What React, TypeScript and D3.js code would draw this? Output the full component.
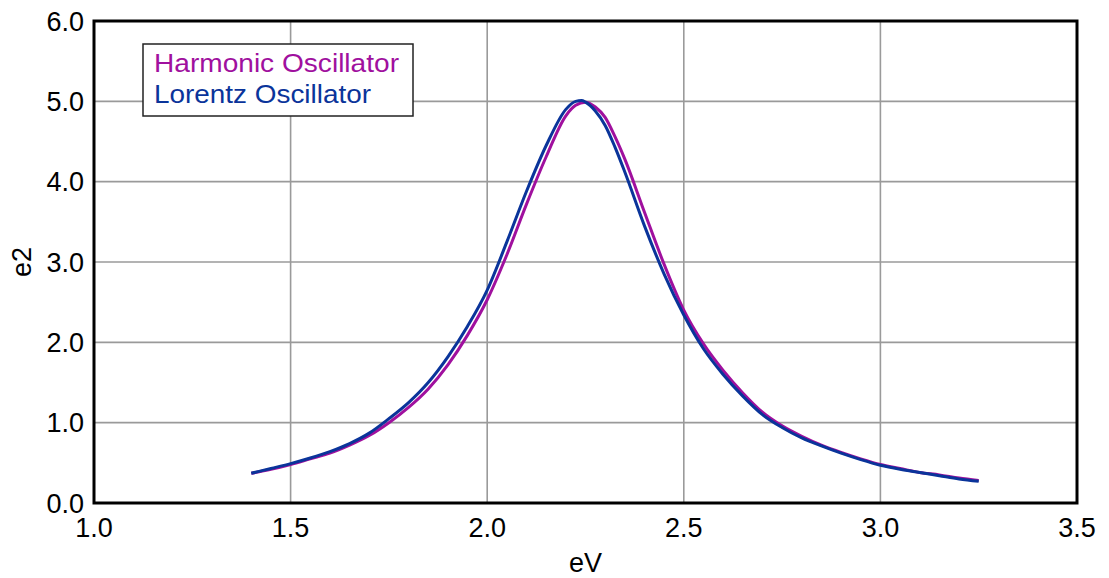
import React from "react";
import * as d3 from "d3";

const xTicks = [1.0, 1.5, 2.0, 2.5, 3.0, 3.5];
const yTicks = [0, 1, 2, 3, 4, 5, 6];

const lorentzX = [1.4, 1.45, 1.5, 1.55, 1.6, 1.65, 1.7, 1.75, 1.8, 1.85, 1.9, 1.95, 2.0, 2.05, 2.1, 2.15, 2.2, 2.225, 2.24, 2.25, 2.275, 2.3, 2.325, 2.35, 2.4, 2.45, 2.5, 2.55, 2.6, 2.65, 2.7, 2.75, 2.8, 2.85, 2.9, 2.95, 3.0, 3.05, 3.1, 3.15, 3.2, 3.25];
const lorentzY = [0.37, 0.43, 0.49, 0.56, 0.64, 0.74, 0.87, 1.05, 1.25, 1.5, 1.82, 2.2, 2.65, 3.25, 3.88, 4.45, 4.9, 5.0, 5.01, 4.99, 4.88, 4.7, 4.43, 4.12, 3.45, 2.85, 2.34, 1.92, 1.6, 1.33, 1.1, 0.94, 0.81, 0.71, 0.62, 0.54, 0.47, 0.42, 0.38, 0.34, 0.3, 0.27];

const harmonicX = [1.4, 1.45, 1.5, 1.55, 1.6, 1.65, 1.7, 1.75, 1.8, 1.85, 1.9, 1.95, 2.0, 2.05, 2.1, 2.15, 2.2, 2.225, 2.25, 2.275, 2.3, 2.325, 2.35, 2.4, 2.45, 2.5, 2.55, 2.6, 2.65, 2.7, 2.75, 2.8, 2.85, 2.9, 2.95, 3.0, 3.05, 3.1, 3.15, 3.2, 3.25];
const harmonicY = [0.37, 0.42, 0.48, 0.55, 0.62, 0.72, 0.84, 1.0, 1.19, 1.42, 1.72, 2.09, 2.53, 3.09, 3.72, 4.31, 4.82, 4.95, 4.99, 4.93, 4.8, 4.56, 4.28, 3.62, 2.97, 2.4, 1.98, 1.65, 1.37, 1.13, 0.96, 0.83, 0.72, 0.63, 0.55, 0.48, 0.43, 0.38, 0.35, 0.31, 0.28];

const seriesNames = ["Harmonic Oscillator", "Lorentz Oscillator"];
const seriesColors = ["#a0109e", "#0a349a"];

export default function App() {
  const W = 1109, H = 578;
  const left = 94, right = 1077, top = 21, bottom = 503;
  const x = d3.scaleLinear().domain([1.0, 3.5]).range([left, right]);
  const y = d3.scaleLinear().domain([0, 6]).range([bottom, top]);
  const line = d3.line<[number, number]>().x(d => x(d[0])).y(d => y(d[1])).curve(d3.curveMonotoneX);
  const hPts = harmonicX.map((v, i) => [v, harmonicY[i]] as [number, number]);
  const lPts = lorentzX.map((v, i) => [v, lorentzY[i]] as [number, number]);
  const font = "Liberation Sans, Arial, sans-serif";
  const legendLengths = [245, 217];
  return (
    <svg width={W} height={H} style={{ position: "absolute", left: 0, top: 0, background: "#fff" }} fontFamily={font}>
      <rect x={0} y={0} width={W} height={H} fill="#fff" />
      {xTicks.slice(1, -1).map(t => (
        <line key={"gx" + t} x1={x(t)} x2={x(t)} y1={top} y2={bottom} stroke="#9a9a9a" strokeWidth={1.6} />
      ))}
      {yTicks.slice(1, -1).map(t => (
        <line key={"gy" + t} x1={left} x2={right} y1={y(t)} y2={y(t)} stroke="#9a9a9a" strokeWidth={1.6} />
      ))}
      <path d={line(hPts) || ""} fill="none" stroke={seriesColors[0]} strokeWidth={3} />
      <path d={line(lPts) || ""} fill="none" stroke={seriesColors[1]} strokeWidth={3} />
      <rect x={left} y={top} width={right - left} height={bottom - top} fill="none" stroke="#000" strokeWidth={3} />
      {xTicks.map(t => (
        <text key={"tx" + t} x={x(t)} y={537} textAnchor="middle" fontSize={27} fill="#000">{t.toFixed(1)}</text>
      ))}
      {yTicks.map(t => (
        <text key={"ty" + t} x={84} y={y(t)} dy="0.36em" textAnchor="end" fontSize={27} fill="#000">{t.toFixed(1)}</text>
      ))}
      <text x={(left + right) / 2} y={572} textAnchor="middle" fontSize={27} fill="#000">eV</text>
      <text transform={`translate(31, ${262}) rotate(-90)`} textAnchor="middle" fontSize={27} fill="#000">e2</text>
      <rect x={143} y={44} width={270} height={72} fill="#fff" stroke="#222" strokeWidth={1.5} />
      {seriesNames.map((n, i) => (
        <text key={n} x={154} y={72 + i * 31} fontSize={25} fill={seriesColors[i]} textLength={legendLengths[i]} lengthAdjust="spacingAndGlyphs">{n}</text>
      ))}
    </svg>
  );
}
